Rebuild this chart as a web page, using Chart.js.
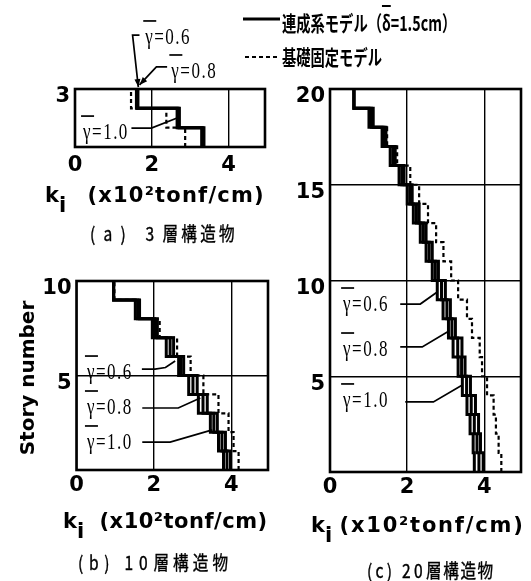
<!DOCTYPE html>
<html><head><meta charset="utf-8">
<script src="https://cdn.jsdelivr.net/npm/chart.js@4/dist/chart.umd.min.js"></script>
<style>
html,body{margin:0;padding:0;background:#fff;}
#wrap{position:relative;width:531px;height:581px;overflow:hidden;background:#fff;}
canvas{position:absolute;left:0;top:0;}
.t{position:absolute;white-space:nowrap;color:#000;z-index:5;}
.jp{font-family:"Noto Sans CJK JP";font-weight:bold;font-size:21px;line-height:21px;transform:scaleX(0.68);transform-origin:0 50%;}
.cap{font-family:"Noto Sans CJK JP";font-weight:normal;font-size:19px;line-height:19px;transform:scaleX(0.82);transform-origin:0 50%;-webkit-text-stroke:0.4px #000;}
.xt{font-family:"DejaVu Sans",sans-serif;font-weight:bold;font-size:21px;line-height:22px;}
.xt sub{font-size:21px;vertical-align:-10px;line-height:0;}
.yt{font-family:"DejaVu Sans",sans-serif;font-weight:bold;font-size:20px;line-height:26px;width:180px;height:26px;text-align:center;transform:rotate(-90deg);}
</style></head>
<body><div id="wrap">
<canvas id="cA" width="531" height="581"></canvas>
<canvas id="cB" width="531" height="581"></canvas>
<canvas id="cC" width="531" height="581"></canvas>

<div class="t jp" style="left:282px;top:12px">連成系モデル（<span style="text-decoration:overline">δ</span>=1.5cm）</div>
<div class="t jp" style="left:282px;top:46px">基礎固定モデル</div>

<div class="t xt" style="left:45px;top:184px">k<sub>i</sub> <span style="margin-left:14px;letter-spacing:1.2px">(x10²tonf/cm)</span></div>
<div class="t xt" style="left:63px;top:510px">k<sub>i</sub> <span style="margin-left:8px;letter-spacing:0.5px">(x10²tonf/cm)</span></div>
<div class="t xt" style="left:311px;top:514px">k<sub>i</sub> <span style="margin-left:0px;letter-spacing:1.8px">(x10²tonf/cm)</span></div>

<div class="t cap" style="left:90px;top:223px"><span style="letter-spacing:10px">(a) 3</span><span style="letter-spacing:4px">層構造物</span></div>
<div class="t cap" style="left:78px;top:552px"><span style="letter-spacing:7px">(b) 10</span><span style="letter-spacing:5px">層構造物</span></div>
<div class="t cap" style="left:367px;top:560px"><span style="letter-spacing:4px">(c) 20</span><span style="letter-spacing:2px">層構造物</span></div>

<div class="t yt" style="left:-63px;top:365px">Story number</div>
</div>
<script>
// ---------- data (stiffness k_i, ×10² tonf/cm, story 1 → top) ----------
const xTicks = [0, 2, 4];
const gammaLabels = ['0.6', '0.8', '1.0'];

// (a) 3-story
const yTicksA = [3];
const kA_g06 = [3.30, 2.66, 1.60];
const kA_g08 = [3.33, 2.69, 1.62];
const kA_g10 = [3.36, 2.72, 1.64];
const kA_fixed = [2.87, 2.38, 1.46];

// (b) 10-story
const yTicksB = [5, 10];
const kB_g06 = [3.80, 3.67, 3.46, 3.15, 2.90, 2.64, 2.32, 1.96, 1.52, 0.96];
const kB_g08 = [3.89, 3.76, 3.55, 3.27, 3.01, 2.70, 2.42, 2.02, 1.58, 0.96];
const kB_g10 = [3.98, 3.85, 3.64, 3.38, 3.12, 2.77, 2.51, 2.09, 1.63, 0.96];
const kB_fixed = [4.19, 4.06, 3.93, 3.67, 3.28, 2.95, 2.60, 2.15, 1.62, 0.98];

// (c) 20-story
const yTicksC = [5, 10, 15, 20];
const kC_g06 = [3.74, 3.71, 3.63, 3.55, 3.43, 3.32, 3.19, 3.07, 2.93, 2.78, 2.65, 2.49, 2.34, 2.16, 2.00, 1.79, 1.56, 1.35, 1.01, 0.62];
const kC_g08 = [3.86, 3.81, 3.74, 3.66, 3.54, 3.41, 3.31, 3.16, 3.03, 2.89, 2.73, 2.57, 2.42, 2.24, 2.07, 1.86, 1.63, 1.40, 1.07, 0.62];
const kC_g10 = [3.97, 3.90, 3.85, 3.77, 3.64, 3.50, 3.42, 3.25, 3.12, 2.99, 2.81, 2.65, 2.49, 2.31, 2.13, 1.92, 1.69, 1.45, 1.12, 0.62];
const kC_fixed = [4.44, 4.37, 4.30, 4.24, 4.07, 3.94, 3.88, 3.68, 3.55, 3.32, 3.14, 2.94, 2.75, 2.54, 2.31, 2.08, 1.74, 1.48, 1.10, 0.62];

// ---------- rendering ----------
const W = 531, H = 581, X_MAX = 4.95;
Chart.defaults.font.family = '"DejaVu Sans", sans-serif';

function steps(k) {
  const pts = [];
  k.forEach((v, i) => { pts.push({x: v, y: i}); pts.push({x: v, y: i + 1}); });
  return pts;
}

const framePlugin = {
  id: 'frame',
  afterDatasetsDraw(c) {
    const a = c.chartArea, ctx = c.ctx;
    ctx.save(); ctx.lineWidth = 2.6; ctx.strokeStyle = '#000';
    ctx.strokeRect(a.left, a.top, a.right - a.left, a.bottom - a.top);
    ctx.restore();
  }
};

function annPlugin(list) {
  return {
    id: 'ann',
    afterDraw(c) {
      const ctx = c.ctx, sx = c.scales.x, sy = c.scales.y;
      ctx.save();
      ctx.strokeStyle = '#000'; ctx.fillStyle = '#000';
      list.forEach(a => {
        const px = sx.getPixelForValue(a.at[0]), py = sy.getPixelForValue(a.at[1]);
        ctx.save();
        ctx.translate(px, py); ctx.scale(0.74, 1);
        ctx.font = '23px "Liberation Serif"';
        ctx.textBaseline = 'middle';
        ctx.letterSpacing = '2px';
        ctx.fillText('γ=' + a.g, 0, 0);
        ctx.restore();
        ctx.lineWidth = 1.7;
        ctx.beginPath(); ctx.moveTo(px - 2, py - 17); ctx.lineTo(px + 11, py - 17); ctx.stroke();
        const P = a.path.map(p => [sx.getPixelForValue(p[0]), sy.getPixelForValue(p[1])]);
        ctx.lineWidth = 1.7;
        ctx.beginPath();
        P.forEach((p, i) => i ? ctx.lineTo(p[0], p[1]) : ctx.moveTo(p[0], p[1]));
        ctx.stroke();
        if (a.arrow) {
          const e = P[P.length - 1], s = P[P.length - 2];
          const ang = Math.atan2(e[1] - s[1], e[0] - s[0]);
          ctx.beginPath();
          ctx.moveTo(e[0], e[1]);
          ctx.lineTo(e[0] - 8 * Math.cos(ang) + 3 * Math.sin(ang), e[1] - 8 * Math.sin(ang) - 3 * Math.cos(ang));
          ctx.lineTo(e[0] - 8 * Math.cos(ang) - 3 * Math.sin(ang), e[1] - 8 * Math.sin(ang) + 3 * Math.cos(ang));
          ctx.closePath(); ctx.fill();
        }
      });
      ctx.restore();
    }
  };
}

const legendPlugin = {
  id: 'legendDraw',
  afterDraw(c) {
    const ctx = c.ctx;
    ctx.save(); ctx.strokeStyle = '#000';
    ctx.lineWidth = 2.8;
    ctx.beginPath(); ctx.moveTo(243, 19); ctx.lineTo(280, 19); ctx.stroke();
    ctx.lineWidth = 2.2; ctx.setLineDash([4, 3]);
    ctx.beginPath(); ctx.moveTo(245, 57); ctx.lineTo(280, 57); ctx.stroke();
    ctx.restore();
  }
};

function makeChart(id, o) {
  const tickFont = {size: 21, weight: 'bold'};
  const ds = o.coupled.map(k => ({
    data: steps(k), showLine: true, borderColor: '#000', borderWidth: 3, pointRadius: 0, tension: 0
  }));
  ds.push({data: steps(o.fixed), showLine: true, borderColor: '#000', borderWidth: 2.2, borderDash: [4, 3], pointRadius: 0, tension: 0});
  return new Chart(document.getElementById(id), {
    type: 'scatter',
    data: {datasets: ds},
    options: {
      responsive: false, animation: false, events: [],
      layout: {padding: {left: 0, top: o.area.t, right: W - o.area.r, bottom: 0}},
      plugins: {legend: {display: false}, tooltip: {enabled: false}},
      scales: {
        x: {
          type: 'linear', min: 0, max: X_MAX,
          afterBuildTicks: s => { s.ticks = xTicks.map(v => ({value: v})); },
          afterFit: s => { s.height = H - o.area.b; },
          grid: {color: '#000', lineWidth: 1.4, drawTicks: false},
          border: {display: false},
          ticks: {color: '#000', font: tickFont, padding: o.xPad, maxRotation: 0, autoSkip: false}
        },
        y: {
          type: 'linear', min: 0, max: o.N,
          afterBuildTicks: s => { s.ticks = o.yTicks.map(v => ({value: v})); },
          afterFit: s => { s.width = o.area.l; },
          grid: {color: '#000', lineWidth: 1.4, drawTicks: false},
          border: {display: false},
          ticks: {color: '#000', font: tickFont, padding: 5, labelOffset: 8, autoSkip: false}
        }
      }
    },
    plugins: [framePlugin, annPlugin(o.ann)].concat(o.extra || [])
  });
}

makeChart('cA', {
  N: 3, yTicks: yTicksA, area: {l: 75, t: 89, r: 265, b: 147}, xPad: 6,
  coupled: [kA_g06, kA_g08, kA_g10], fixed: kA_fixed,
  ann: [
    {g: gammaLabels[0], at: [1.83, 5.64], path: [[1.68, 5.79], [1.50, 5.79], [1.65, 3.10]], arrow: true},
    {g: gammaLabels[1], at: [2.51, 3.88], path: [[2.40, 4.14], [2.12, 4.14], [1.68, 3.21]], arrow: true},
    {g: gammaLabels[2], at: [0.21, 0.72], path: [[1.47, 0.98], [1.99, 0.98], [2.66, 1.50]], arrow: false}
  ],
  extra: [legendPlugin]
});

makeChart('cB', {
  N: 10, yTicks: yTicksB, area: {l: 76.5, t: 281, r: 268, b: 470}, xPad: 3,
  coupled: [kB_g06, kB_g08, kB_g10], fixed: kB_fixed,
  ann: [
    {g: gammaLabels[0], at: [0.27, 5.13], path: [[1.69, 5.34], [2.03, 5.34], [2.30, 5.42], [2.55, 5.77]], arrow: false},
    {g: gammaLabels[1], at: [0.27, 3.28], path: [[1.70, 3.28], [2.63, 3.28], [3.20, 3.81]], arrow: false},
    {g: gammaLabels[2], at: [0.27, 1.43], path: [[1.70, 1.48], [2.42, 1.48], [3.51, 2.12]], arrow: false}
  ]
});

makeChart('cC', {
  N: 20, yTicks: yTicksC, area: {l: 330, t: 89, r: 521, b: 472}, xPad: 3,
  coupled: [kC_g06, kC_g08, kC_g10], fixed: kC_fixed,
  ann: [
    {g: gammaLabels[0], at: [0.34, 8.72], path: [[1.82, 8.77], [2.34, 8.77], [2.78, 9.40]], arrow: false},
    {g: gammaLabels[1], at: [0.34, 6.37], path: [[1.82, 6.53], [2.39, 6.53], [3.04, 7.31]], arrow: false},
    {g: gammaLabels[2], at: [0.34, 3.71], path: [[1.95, 3.66], [2.68, 3.66], [3.43, 4.54]], arrow: false}
  ]
});
</script>
</body></html>
